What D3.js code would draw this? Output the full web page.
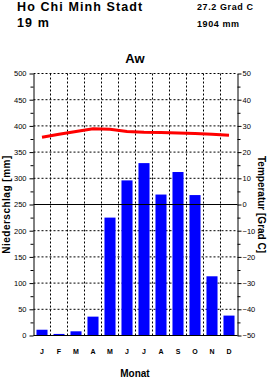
<!DOCTYPE html>
<html><head><meta charset="utf-8">
<script src="https://cdn.jsdelivr.net/npm/d3@7"></script>
<style>
html,body{margin:0;padding:0;background:#fff;}
svg{display:block;font-family:"Liberation Sans",Arial,sans-serif;}
</style></head>
<body>
<script>
const months = ["J","F","M","A","M","J","J","A","S","O","N","D"];
const precip = [11, 3, 8, 36, 225, 296, 329, 269, 312, 268, 113, 38];
const temp = [25.7, 26.8, 27.9, 28.9, 28.7, 27.9, 27.6, 27.5, 27.3, 27.1, 26.8, 26.4];
const precipTicks = [0,50,100,150,200,250,300,350,400,450,500];
const tempTicks = [-50,-40,-30,-20,-10,0,10,20,30,40,50];
const station = "Ho Chi Minh Stadt";
const elevation = "19 m";
const meanTemp = "27.2 Grad C";
const sumPrecip = "1904 mm";
const climate = "Aw";

(function(){
const W = 270, H = 378;
const svg = d3.select("body").append("svg").attr("width", W).attr("height", H);

const pL = 33.5, pR = 237.5, pT = 73.5, pB = 335.5;
const x = d3.scaleBand().domain(d3.range(12)).range([pL, pR]).paddingInner(0).paddingOuter(0);
const y = d3.scaleLinear().domain([0, 500]).range([pB, pT]);
const yT = d3.scaleLinear().domain([-50, 50]).range([pB, pT]);

// grid
const g = svg.append("g");
g.selectAll("line.hg").data(precipTicks.filter(v => v !== 0 && v !== 250)).enter().append("line")
  .attr("x1", pL).attr("x2", pR).attr("y1", d => y(d)).attr("y2", d => y(d))
  .attr("stroke", "#000").attr("stroke-width", 1).attr("stroke-dasharray", "2,2");
g.selectAll("line.vg").data(d3.range(1, 12)).enter().append("line")
  .attr("x1", d => x(d)).attr("x2", d => x(d)).attr("y1", pT).attr("y2", pB)
  .attr("stroke", "#000").attr("stroke-width", 1).attr("stroke-dasharray", "2,2");

// bars
const bw = x.bandwidth() * 0.65;
svg.selectAll("rect.bar").data(precip).enter().append("rect")
  .attr("x", (d, i) => x(i) + (x.bandwidth() - bw) / 2)
  .attr("width", bw)
  .attr("y", d => y(d))
  .attr("height", d => y(0) - y(d))
  .attr("fill", "#0000ff");

// solid lines at 0 and 250
svg.append("line").attr("x1", pL).attr("x2", pR).attr("y1", y(250)).attr("y2", y(250)).attr("stroke", "#000");
svg.append("line").attr("x1", pL).attr("x2", pR).attr("y1", y(0)).attr("y2", y(0)).attr("stroke", "#000");

// temperature line
const line = d3.line().x((d, i) => x(i) + x.bandwidth() / 2).y(d => yT(d));
svg.append("path").datum(temp).attr("d", line).attr("fill", "none")
  .attr("stroke", "#ff0000").attr("stroke-width", 3);

// axes
const minorP = d3.range(25, 500, 50);
const minorT = d3.range(-45, 50, 10);
const axL = svg.append("g").attr("transform", `translate(${pL},0)`)
  .call(d3.axisLeft(y).tickValues(precipTicks).tickSize(4).tickSizeOuter(0).tickPadding(3));
const axLm = svg.append("g").attr("transform", `translate(${pL},0)`)
  .call(d3.axisLeft(y).tickValues(minorP).tickSize(3).tickSizeOuter(0).tickFormat(""));
axLm.select(".domain").remove();
const axR = svg.append("g").attr("transform", `translate(${pR},0)`)
  .call(d3.axisRight(yT).tickValues(tempTicks).tickSize(4).tickSizeOuter(0).tickPadding(1));
const axRm = svg.append("g").attr("transform", `translate(${pR},0)`)
  .call(d3.axisRight(yT).tickValues(minorT).tickSize(3).tickSizeOuter(0).tickFormat(""));
axRm.select(".domain").remove();
[axL, axR].forEach(a => {
  a.selectAll("text").attr("font-size", 7.5).attr("font-family", "Liberation Sans, Arial, sans-serif").attr("fill", "#000");
});
svg.selectAll(".domain").attr("stroke", "#000");
svg.selectAll(".tick line").attr("stroke", "#000");

// month labels
svg.selectAll("text.month").data(months).enter().append("text")
  .attr("x", (d, i) => x(i) + x.bandwidth() / 2).attr("y", 354)
  .attr("text-anchor", "middle").attr("font-size", 7).attr("font-weight", "bold").text(d => d);

// titles
svg.append("text").attr("x", 17).attr("y", 11).attr("font-size", 12.5).attr("font-weight", "bold")
  .attr("letter-spacing", 1.1).text(station);
svg.append("text").attr("x", 17).attr("y", 27).attr("font-size", 12.5).attr("font-weight", "bold")
  .attr("letter-spacing", 1.1).text(elevation);
svg.append("text").attr("x", 197).attr("y", 10).attr("font-size", 9).attr("font-weight", "bold")
  .attr("letter-spacing", 0.6).text(meanTemp);
svg.append("text").attr("x", 197).attr("y", 27).attr("font-size", 9).attr("font-weight", "bold")
  .attr("letter-spacing", 0.6).text(sumPrecip);
svg.append("text").attr("x", 135).attr("y", 63).attr("text-anchor", "middle").attr("font-size", 13)
  .attr("font-weight", "bold").text(climate);
svg.append("text").attr("x", 135).attr("y", 377).attr("text-anchor", "middle").attr("font-size", 10)
  .attr("font-weight", "bold").text("Monat");
svg.append("text").attr("transform", `translate(9.5,${(pT + pB) / 2}) rotate(-90)`)
  .attr("text-anchor", "middle").attr("font-size", 10).attr("font-weight", "bold")
  .attr("letter-spacing", 0.5).text("Niederschlag [mm]");
svg.append("text").attr("transform", `translate(258,${(pT + pB) / 2}) rotate(90)`)
  .attr("text-anchor", "middle").attr("font-size", 10).attr("font-weight", "bold").text("Temperatur [Grad C]");
})();
</script>
</body></html>
